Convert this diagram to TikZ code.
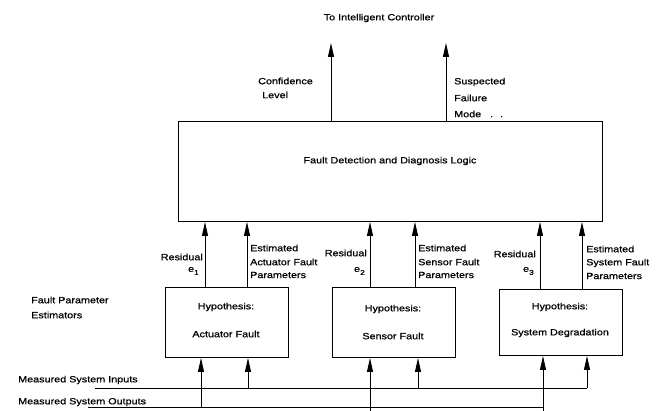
\documentclass[tikz,border=0pt]{standalone}
\usepackage{fontspec}
\setmainfont[FakeStretch=1.2,FakeBold=0.8]{Liberation Sans}
\usetikzlibrary{arrows.meta}
\begin{document}
\begin{tikzpicture}[x=1pt,y=-1pt,
  lbl/.style={font=\fontsize{9}{10.5}\selectfont, inner sep=0pt},
  boxs/.style={draw, line width=1pt, inner sep=0pt, anchor=north west},
  arr/.style={line width=0.9pt, -{Triangle[length=14pt,width=6pt]}},
  ln/.style={line width=0.9pt}]
\useasboundingbox (0,0) rectangle (656,411);
% main box
\node[boxs, minimum width=424pt, minimum height=100pt] (fdd) at (178,121) {};
\node[lbl] (fddt) at (390,161) {Fault Detection and Diagnosis Logic};
% top outputs
\node[lbl] (title) at (379,18) {To Intelligent Controller};
\coordinate (o1) at (331,43);
\coordinate (o2) at (446,43);
\draw[arr] (fdd.north -| o1) -- (o1);
\draw[arr] (fdd.north -| o2) -- (o2);
\node[lbl, anchor=west] (conf) at (258,81) {Confidence};
\node[lbl, anchor=west] (lev) at (262,95) {Level};
\node[lbl, anchor=west] (susp) at (454,82) {Suspected};
\node[lbl, anchor=west] (fail) at (454,98) {Failure};
\node[lbl, anchor=west] (mode) at (454,114) {Mode \ \ . \ .};
% hypothesis boxes
\node[boxs, minimum width=123pt, minimum height=70pt] (h1) at (165,287) {};
\node[boxs, minimum width=123pt, minimum height=70pt] (h2) at (332,287) {};
\node[boxs, minimum width=123pt, minimum height=66pt] (h3) at (499,289) {};
\node[lbl] (h1a) at (226,307) {Hypothesis:};
\node[lbl] (h1b) at (226,334) {Actuator Fault};
\node[lbl] (h2a) at (393,309) {Hypothesis:};
\node[lbl] (h2b) at (393,336) {Sensor Fault};
\node[lbl] (h3a) at (560,307) {Hypothesis:};
\node[lbl] (h3b) at (560,333) {System Degradation};
% residual / estimated arrows
\coordinate (r1) at (205,0); \coordinate (p1) at (247,0);
\coordinate (r2) at (370,0); \coordinate (p2) at (415,0);
\coordinate (r3) at (540,0); \coordinate (p3) at (582,0);
\draw[arr] (h1.north -| r1) -- (fdd.south -| r1);
\draw[arr] (h1.north -| p1) -- (fdd.south -| p1);
\draw[arr] (h2.north -| r2) -- (fdd.south -| r2);
\draw[arr] (h2.north -| p2) -- (fdd.south -| p2);
\draw[arr] (h3.north -| r3) -- (fdd.south -| r3);
\draw[arr] (h3.north -| p3) -- (fdd.south -| p3);
\node[lbl, anchor=east] (res1) at (203,257) {Residual};
\node[lbl, anchor=east] (e1) at (199,271) {e\raisebox{-3pt}{\scriptsize 1}};
\node[lbl, anchor=east] (res2) at (367,253) {Residual};
\node[lbl, anchor=east] (e2) at (365,271) {e\raisebox{-3pt}{\scriptsize 2}};
\node[lbl, anchor=east] (res3) at (536,254) {Residual};
\node[lbl, anchor=east] (e3) at (534,271) {e\raisebox{-3pt}{\scriptsize 3}};
\node[lbl, anchor=west] (es1a) at (250,248) {Estimated};
\node[lbl, anchor=west] (es1b) at (250,262) {Actuator Fault};
\node[lbl, anchor=west] (es1c) at (250,275) {Parameters};
\node[lbl, anchor=west] (es2a) at (418,248) {Estimated};
\node[lbl, anchor=west] (es2b) at (418,262) {Sensor Fault};
\node[lbl, anchor=west] (es2c) at (418,275) {Parameters};
\node[lbl, anchor=west] (es3a) at (586,249) {Estimated};
\node[lbl, anchor=west] (es3b) at (586,263) {System Fault};
\node[lbl, anchor=west] (es3c) at (586,276) {Parameters};
% left labels
\node[lbl, anchor=west] (fpe1) at (31,300) {Fault Parameter};
\node[lbl, anchor=west] (fpe2) at (31,315) {Estimators};
\node[lbl, anchor=west] (msi) at (18,380) {Measured System Inputs};
\node[lbl, anchor=west] (mso) at (18,402) {Measured System Outputs};
% input / output buses
\coordinate (inL) at (95,388);
\coordinate (inR) at (587,388);
\coordinate (outL) at (88,407);
\coordinate (outR) at (543,407);
\draw[ln] (inL) -- (inR);
\draw[ln] (outL) -- (outR);
\coordinate (i1) at (248,388);
\coordinate (i2) at (418,388);
\coordinate (u1) at (201,407);
\coordinate (u2) at (370,411);
\coordinate (u3) at (543,411);
\draw[arr] (i1) -- (h1.south -| i1);
\draw[arr] (i2) -- (h2.south -| i2);
\draw[arr] (inR) -- (h3.south -| inR);
\draw[arr] (u1) -- (h1.south -| u1);
\draw[arr] (u2) -- (h2.south -| u2);
\draw[arr] (u3) -- (h3.south -| u3);
\end{tikzpicture}
\end{document}
